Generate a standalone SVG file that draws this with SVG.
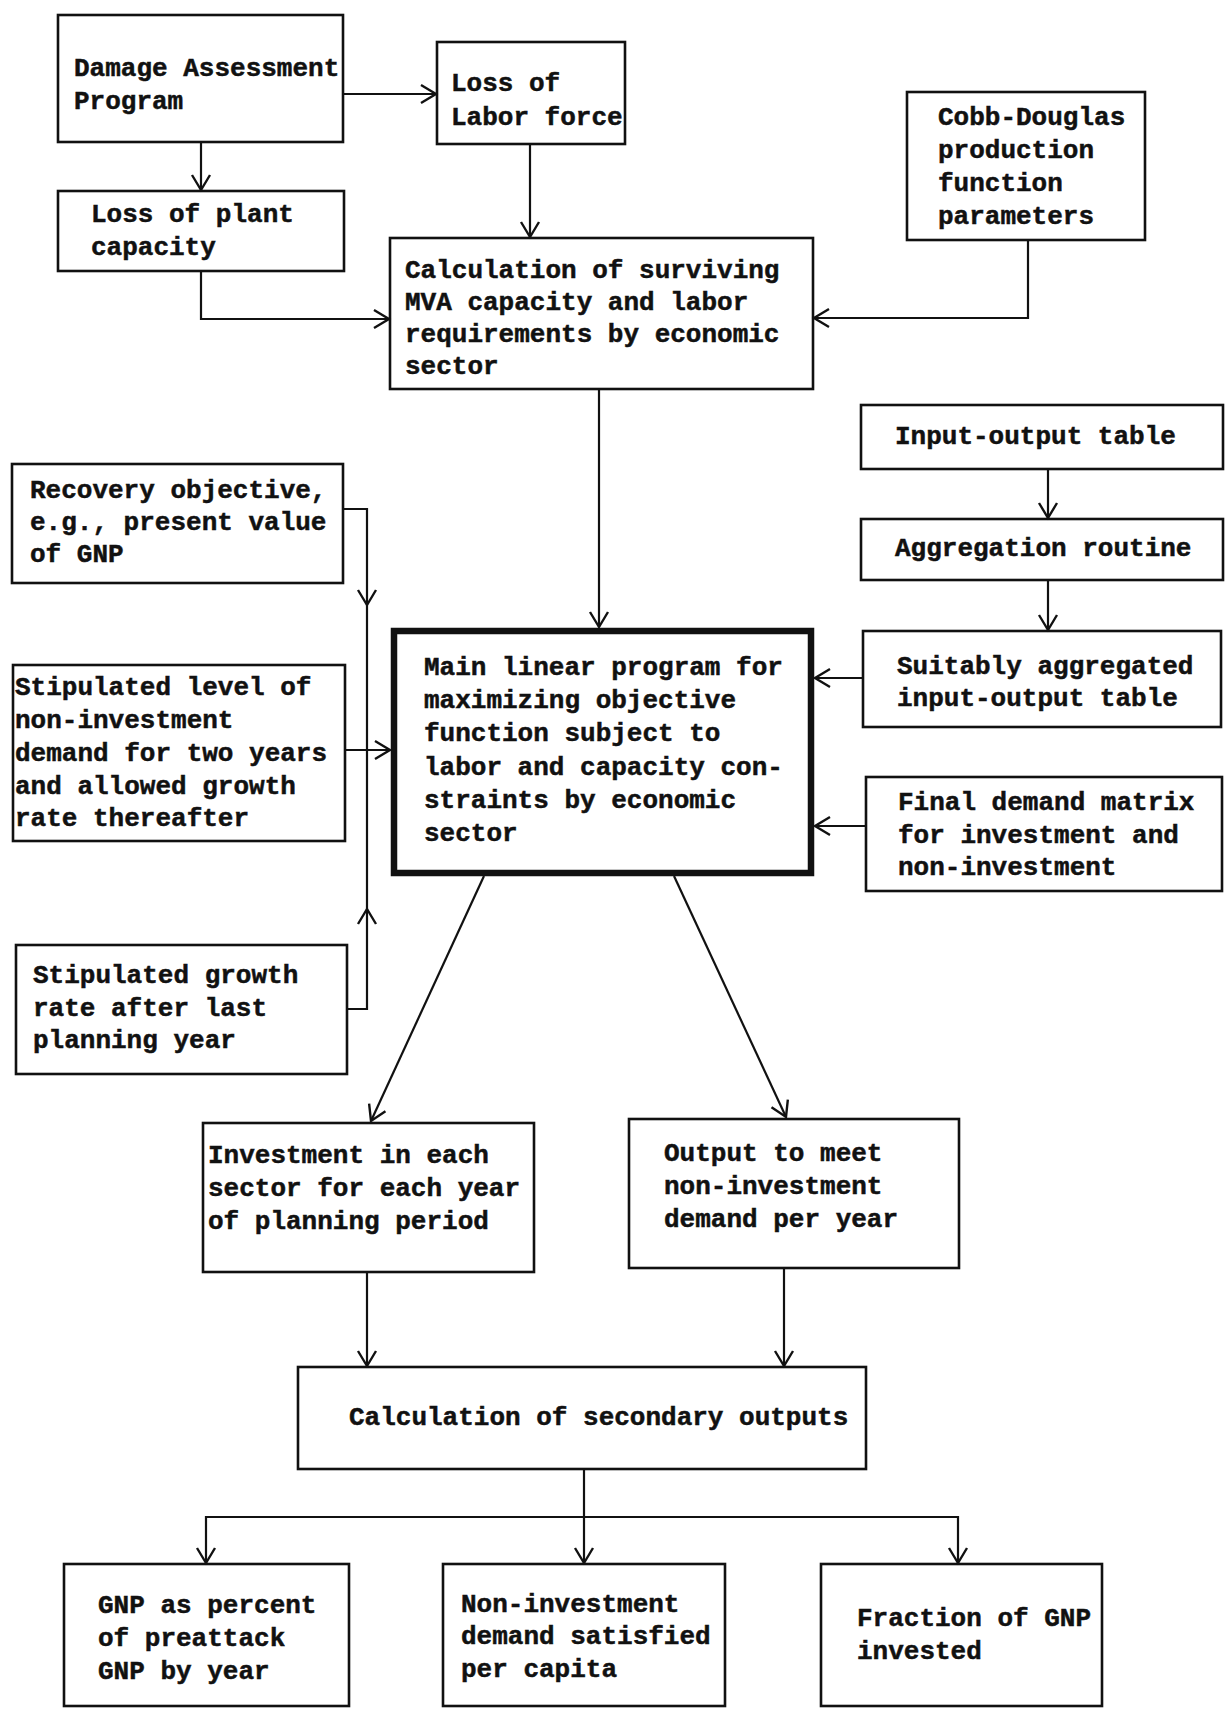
<svg xmlns="http://www.w3.org/2000/svg" width="1230" height="1709" viewBox="0 0 1230 1709">
<style>
.box{fill:none;stroke:#111;stroke-width:2.6}
.main{fill:none;stroke:#111;stroke-width:6.5}
.t{font-family:"Liberation Mono","DejaVu Sans Mono",monospace;font-weight:bold;font-size:26px;fill:#111;stroke:#111;stroke-width:0.5}
.c{fill:none;stroke:#111;stroke-width:2.2}
</style>
<defs>
<marker id="arr" markerWidth="24" markerHeight="24" refX="18" refY="12" orient="auto" markerUnits="userSpaceOnUse">
<path d="M3,3 L18,12 L3,21" fill="none" stroke="#111" stroke-width="2.4"/>
</marker>
</defs>
<rect width="1230" height="1709" fill="#fff"/>
<g id="connectors">
<path class="c" d="M343,94 H436" marker-end="url(#arr)"/>
<path class="c" d="M201,142 V190" marker-end="url(#arr)"/>
<path class="c" d="M530,144 V237" marker-end="url(#arr)"/>
<path class="c" d="M201,271 V319 H389" marker-end="url(#arr)"/>
<path class="c" d="M1028,240 V318 H814" marker-end="url(#arr)"/>
<path class="c" d="M599,389 V627" marker-end="url(#arr)"/>
<path class="c" d="M1048,469 V518" marker-end="url(#arr)"/>
<path class="c" d="M1048,580 V630" marker-end="url(#arr)"/>
<path class="c" d="M863,678 H815" marker-end="url(#arr)"/>
<path class="c" d="M866,826 H815" marker-end="url(#arr)"/>
<path class="c" d="M343,509 H367 V605" marker-end="url(#arr)"/>
<path class="c" d="M367,605 V909"/>
<path class="c" d="M347,1009 H367 V909" marker-end="url(#arr)"/>
<path class="c" d="M345,750 H390" marker-end="url(#arr)"/>
<path class="c" d="M484,876 L371,1121" marker-end="url(#arr)"/>
<path class="c" d="M674,876 L786,1117" marker-end="url(#arr)"/>
<path class="c" d="M367,1272 V1366" marker-end="url(#arr)"/>
<path class="c" d="M784,1268 V1366" marker-end="url(#arr)"/>
<path class="c" d="M584,1469 V1563" marker-end="url(#arr)"/>
<path class="c" d="M584,1517 H206 V1563" marker-end="url(#arr)"/>
<path class="c" d="M584,1517 H958 V1563" marker-end="url(#arr)"/>
</g>
<g id="damage"><rect class="box" x="58" y="15" width="285" height="127"/>
<text class="t" x="74" y="76">Damage Assessment</text><text class="t" x="74" y="109">Program</text></g>
<g id="labor"><rect class="box" x="437" y="42" width="188" height="102"/>
<text class="t" x="451" y="91">Loss of</text><text class="t" x="451" y="125">Labor force</text></g>
<g id="plant"><rect class="box" x="58" y="191" width="286" height="80"/>
<text class="t" x="91" y="222">Loss of plant</text><text class="t" x="91" y="255">capacity</text></g>
<g id="calc"><rect class="box" x="390" y="238" width="423" height="151"/>
<text class="t" x="405" y="278">Calculation of surviving</text><text class="t" x="405" y="310">MVA capacity and labor</text><text class="t" x="405" y="342">requirements by economic</text><text class="t" x="405" y="374">sector</text></g>
<g id="cobb"><rect class="box" x="907" y="92" width="238" height="148"/>
<text class="t" x="938" y="125">Cobb-Douglas</text><text class="t" x="938" y="158">production</text><text class="t" x="938" y="191">function</text><text class="t" x="938" y="224">parameters</text></g>
<g id="iotable"><rect class="box" x="861" y="405" width="362" height="64"/>
<text class="t" x="895" y="444">Input-output table</text></g>
<g id="aggregation"><rect class="box" x="861" y="519" width="362" height="61"/>
<text class="t" x="895" y="556">Aggregation routine</text></g>
<g id="suitably"><rect class="box" x="863" y="631" width="358" height="96"/>
<text class="t" x="897" y="674">Suitably aggregated</text><text class="t" x="897" y="706">input-output table</text></g>
<g id="finaldemand"><rect class="box" x="866" y="777" width="356" height="114"/>
<text class="t" x="898" y="810">Final demand matrix</text><text class="t" x="898" y="843">for investment and</text><text class="t" x="898" y="875">non-investment</text></g>
<g id="recovery"><rect class="box" x="12" y="464" width="331" height="119"/>
<text class="t" x="30" y="498">Recovery objective,</text><text class="t" x="30" y="530">e.g., present value</text><text class="t" x="30" y="562">of GNP</text></g>
<g id="stiplevel"><rect class="box" x="13" y="665" width="332" height="176"/>
<text class="t" x="15" y="695">Stipulated level of</text><text class="t" x="15" y="728">non-investment</text><text class="t" x="15" y="761">demand for two years</text><text class="t" x="15" y="794">and allowed growth</text><text class="t" x="15" y="826">rate thereafter</text></g>
<g id="stipgrowth"><rect class="box" x="16" y="945" width="331" height="129"/>
<text class="t" x="33" y="983">Stipulated growth</text><text class="t" x="33" y="1016">rate after last</text><text class="t" x="33" y="1048">planning year</text></g>
<g id="mainlp"><rect class="main" x="394" y="631" width="417" height="242"/>
<text class="t" x="424" y="675">Main linear program for</text><text class="t" x="424" y="708">maximizing objective</text><text class="t" x="424" y="741">function subject to</text><text class="t" x="424" y="775">labor and capacity con-</text><text class="t" x="424" y="808">straints by economic</text><text class="t" x="424" y="841">sector</text></g>
<g id="investment"><rect class="box" x="203" y="1123" width="331" height="149"/>
<text class="t" x="208" y="1163">Investment in each</text><text class="t" x="208" y="1196">sector for each year</text><text class="t" x="208" y="1229">of planning period</text></g>
<g id="output"><rect class="box" x="629" y="1119" width="330" height="149"/>
<text class="t" x="664" y="1161">Output to meet</text><text class="t" x="664" y="1194">non-investment</text><text class="t" x="664" y="1227">demand per year</text></g>
<g id="secondary"><rect class="box" x="298" y="1367" width="568" height="102"/>
<text class="t" x="349" y="1425">Calculation of secondary outputs</text></g>
<g id="gnp"><rect class="box" x="64" y="1564" width="285" height="142"/>
<text class="t" x="98" y="1613">GNP as percent</text><text class="t" x="98" y="1646">of preattack</text><text class="t" x="98" y="1679">GNP by year</text></g>
<g id="noninv"><rect class="box" x="443" y="1564" width="282" height="142"/>
<text class="t" x="461" y="1612">Non-investment</text><text class="t" x="461" y="1644">demand satisfied</text><text class="t" x="461" y="1677">per capita</text></g>
<g id="fraction"><rect class="box" x="821" y="1564" width="281" height="142"/>
<text class="t" x="857" y="1626">Fraction of GNP</text><text class="t" x="857" y="1659">invested</text></g>
</svg>
